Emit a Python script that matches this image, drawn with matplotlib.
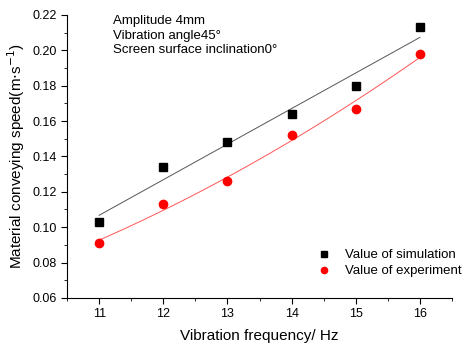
import matplotlib
matplotlib.use("Agg")
import matplotlib.pyplot as plt
import numpy as np
from matplotlib.ticker import MultipleLocator

plt.rcParams['font.family'] = ['Liberation Sans', 'DejaVu Sans']

freq = [11, 12, 13, 14, 15, 16]
sim = [0.103, 0.134, 0.148, 0.164, 0.180, 0.213]
exp_ = [0.091, 0.113, 0.126, 0.152, 0.167, 0.198]

fig = plt.figure(figsize=(4.66, 3.46), dpi=100)
ax = fig.add_axes([0.144, 0.139, 0.826, 0.818])

xf = np.linspace(11, 16, 100)
p1 = np.polyfit(freq, sim, 1)
p2 = np.polyfit(freq, exp_, 2)
ax.plot(xf, np.polyval(p1, xf), color='#555555', lw=0.7)
ax.plot(xf, np.polyval(p2, xf), color='#ff5555', lw=0.7)

ax.plot(freq, sim, 's', color='black', ms=5.5, label='Value of simulation')
ax.plot(freq, exp_, 'o', color='red', ms=6, label='Value of experiment')

ax.set_xlim(10.5, 16.5)
ax.set_ylim(0.06, 0.22)
ax.xaxis.set_major_locator(MultipleLocator(1))
ax.xaxis.set_minor_locator(MultipleLocator(0.5))
ax.yaxis.set_major_locator(MultipleLocator(0.02))
ax.yaxis.set_minor_locator(MultipleLocator(0.01))
ax.yaxis.set_major_formatter(matplotlib.ticker.FormatStrFormatter('%.2f'))
ax.tick_params(which='both', direction='out', labelsize=9)
ax.tick_params(which='major', length=4)
ax.tick_params(which='minor', length=2.5)
for s in ['top', 'right']:
    ax.spines[s].set_visible(False)

ax.set_xlabel('Vibration frequency/ Hz', fontsize=11, labelpad=6)
ax.set_ylabel('Material conveying speed(m$\\cdot$s$^{-1}$)', fontsize=11)

ax.text(0.12, 1.0, 'Amplitude 4mm\nVibration angle45°\nScreen surface inclination0°',
        transform=ax.transAxes, va='top', ha='left', fontsize=9.5, linespacing=1.3)

ax.legend(loc='lower right', frameon=False, fontsize=9.5, handletextpad=0.6,
          borderaxespad=0.3, labelspacing=0.3, bbox_to_anchor=(1.05, 0.04),
          markerscale=0.75)

fig.savefig('out.png', dpi=100)
